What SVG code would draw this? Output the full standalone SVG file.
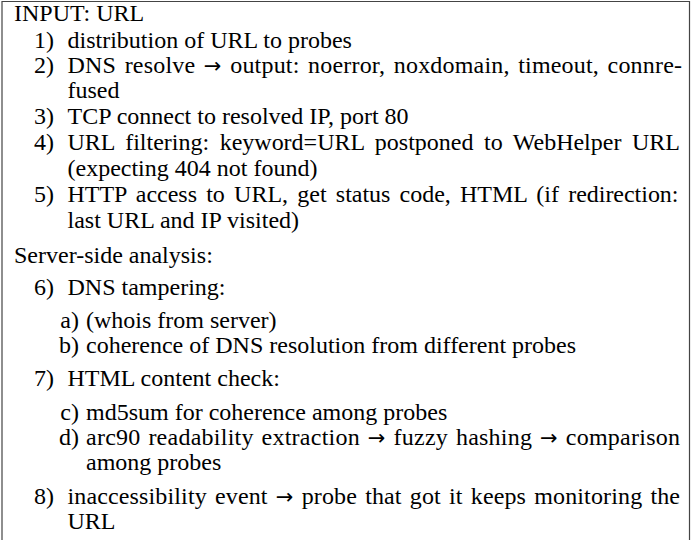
<svg xmlns="http://www.w3.org/2000/svg" width="696" height="540" viewBox="0 0 696 540">
<style>
text{font-family:"Liberation Serif","Times New Roman",serif;font-size:24px;fill:#000}
.lab{text-anchor:end}
.ar{font-family:"DejaVu Sans",sans-serif;font-size:21px}
</style>
<rect width="696" height="540" fill="#fff"/>
<path d="M2,540 V1.5 H689.5 V540" fill="none" stroke="#444" stroke-width="1.2"/>
<g id="input">
<text x="14" y="21">INPUT: URL</text>
<text class="lab" x="54" y="48">1)</text>
<text x="67.5" y="48">distribution of URL to probes</text>
<text class="lab" x="54" y="73">2)</text>
<text x="67.5" y="73" word-spacing="2.4" textLength="614.5" lengthAdjust="spacing">DNS resolve <tspan class="ar">→</tspan> output: noerror, noxdomain, timeout, connre-</text>
<text x="67.5" y="98">fused</text>
<text class="lab" x="54" y="124">3)</text>
<text x="67.5" y="124">TCP connect to resolved IP, port 80</text>
<text class="lab" x="54" y="150">4)</text>
<text x="67.5" y="150" word-spacing="4.6" textLength="612.5" lengthAdjust="spacing">URL filtering: keyword=URL postponed to WebHelper URL</text>
<text x="67.5" y="176">(expecting 404 not found)</text>
<text class="lab" x="54" y="202">5)</text>
<text x="67.5" y="202" word-spacing="3.3" textLength="611" lengthAdjust="spacing">HTTP access to URL, get status code, HTML (if redirection:</text>
<text x="67.5" y="228">last URL and IP visited)</text>
</g>
<g id="server">
<text x="14" y="263">Server-side analysis:</text>
<text class="lab" x="54" y="295">6)</text>
<text x="67.5" y="295">DNS tampering:</text>
<text class="lab" x="79" y="328">a)</text>
<text x="86" y="328">(whois from server)</text>
<text class="lab" x="79" y="353">b)</text>
<text x="86" y="353">coherence of DNS resolution from different probes</text>
<text class="lab" x="54" y="386">7)</text>
<text x="67.5" y="386">HTML content check:</text>
<text class="lab" x="79" y="420">c)</text>
<text x="86" y="420">md5sum for coherence among probes</text>
<text class="lab" x="79" y="445">d)</text>
<text x="86" y="445" word-spacing="1.6" textLength="594" lengthAdjust="spacing">arc90 readability extraction <tspan class="ar">→</tspan> fuzzy hashing <tspan class="ar">→</tspan> comparison</text>
<text x="86" y="470">among probes</text>
<text class="lab" x="54" y="504">8)</text>
<text x="67.5" y="504" word-spacing="2" textLength="612.5" lengthAdjust="spacing">inaccessibility event <tspan class="ar">→</tspan> probe that got it keeps monitoring the</text>
<text x="67.5" y="529">URL</text>
</g>
</svg>
